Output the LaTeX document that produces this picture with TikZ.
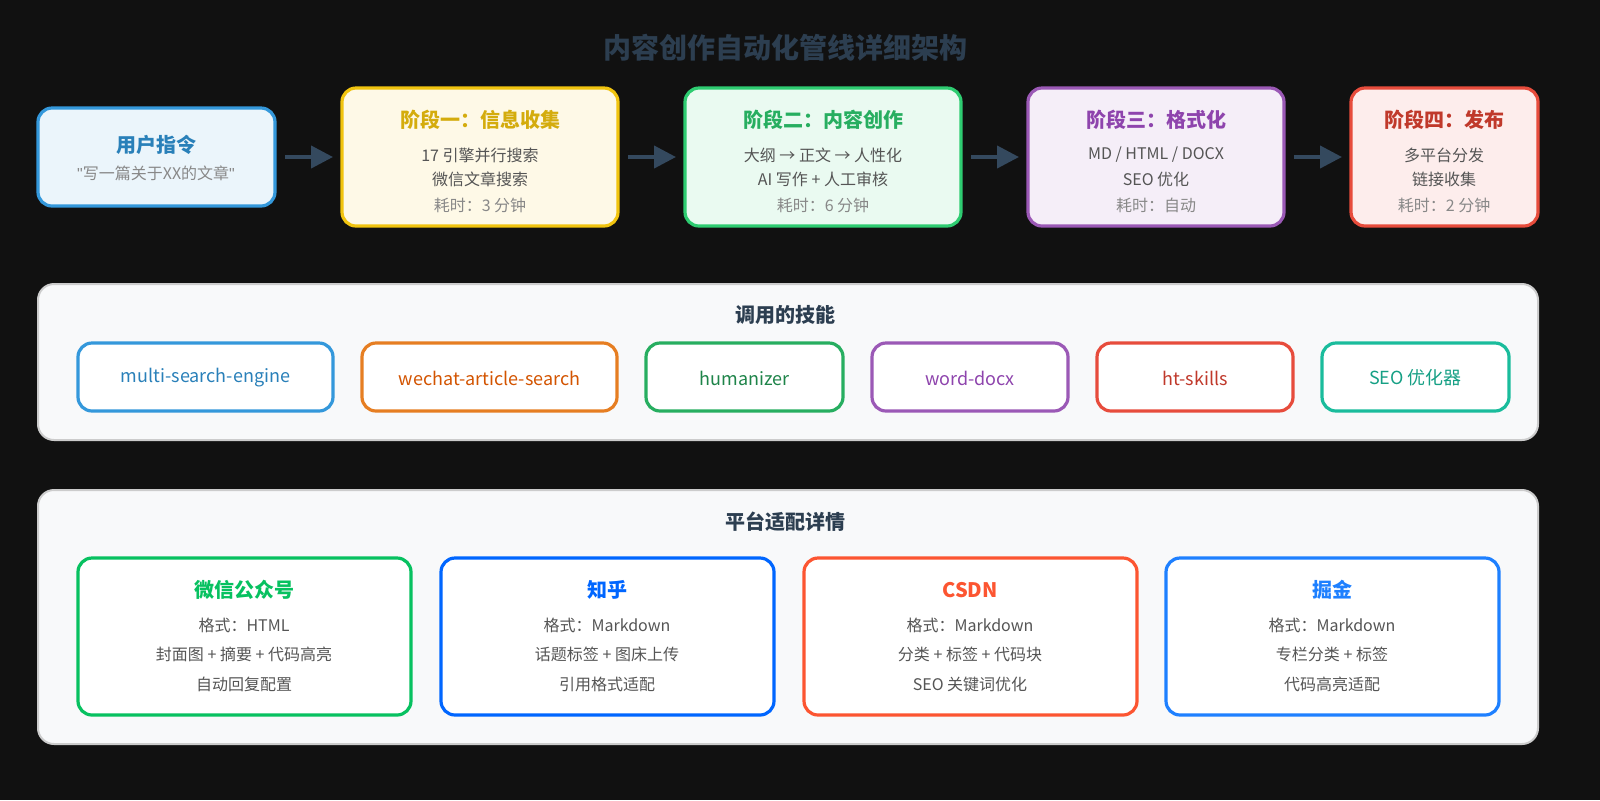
\documentclass[tikz,border=0pt]{standalone}
\usepackage{fontspec}
\setmainfont{Noto Sans CJK SC}
\newfontfamily\qfont{Liberation Sans}
\usetikzlibrary{arrows.meta}
\definecolor{bg}{HTML}{111111}
\definecolor{ttl}{HTML}{2C3E50}
\definecolor{gry}{HTML}{555555}
\definecolor{lgry}{HTML}{888888}
\definecolor{ub}{HTML}{3498DB}\definecolor{ubf}{HTML}{EBF5FB}\definecolor{ubt}{HTML}{2980B9}
\definecolor{yb}{HTML}{F1C40F}\definecolor{ybf}{HTML}{FEF9E7}\definecolor{ybt}{HTML}{D4AC0D}
\definecolor{gb}{HTML}{2ECC71}\definecolor{gbf}{HTML}{EAFAF1}\definecolor{gbt}{HTML}{27AE60}
\definecolor{pb}{HTML}{9B59B6}\definecolor{pbf}{HTML}{F5EEF8}\definecolor{pbt}{HTML}{8E44AD}
\definecolor{rb}{HTML}{E74C3C}\definecolor{rbf}{HTML}{FDEDEC}\definecolor{rbt}{HTML}{C0392B}
\definecolor{ob}{HTML}{E67E22}\definecolor{obt}{HTML}{D35400}
\definecolor{sgb}{HTML}{27AE60}\definecolor{sgt}{HTML}{1E8449}
\definecolor{tb}{HTML}{1ABC9C}\definecolor{tbt}{HTML}{16A085}
\definecolor{pan}{HTML}{F8F9FA}\definecolor{panb}{HTML}{CCCCCC}
\definecolor{wx}{HTML}{07C160}\definecolor{zh}{HTML}{0066FF}\definecolor{cs}{HTML}{FC5531}\definecolor{jj}{HTML}{1E80FF}
\definecolor{arrc}{HTML}{34495E}
\begin{document}
\begin{tikzpicture}[x=0.5pt,y=-0.5pt,
  box/.style={draw=#1,line width=1.6pt,rounded corners=7pt},
  ln/.style={text=gry,font=\fontsize{8}{9}\selectfont},
  hd/.style={font=\bfseries\fontsize{10}{12}\selectfont},
  sk/.style={font=\fontsize{9}{11}\selectfont},
  arr/.style={line width=2pt,draw=arrc,-{Triangle[length=11pt,width=11pt]}}]
\fill[bg] (0,0) rectangle (1600,800);
\useasboundingbox (0,0) rectangle (1600,800);
\node[text=ttl,font=\bfseries\fontsize{14}{16}\selectfont] (title) at (785,48) {内容创作自动化管线详细架构};
% top row
\draw[box=ub,fill=ubf] (38,108) rectangle (275,206);
\node[hd,text=ubt] (u1) at (156,145) {用户指令};
\node[ln,text=lgry] (u2) at (156,173) {{\qfont"}写一篇关于XX的文章{\qfont"}};
\draw[box=yb,fill=ybf] (342,88) rectangle (618,226);
\node[hd,text=ybt] (s1) at (480,120) {阶段一：信息收集};
\node[ln] at (480,155) {17 引擎并行搜索};
\node[ln] at (480,179) {微信文章搜索};
\node[ln,text=lgry] at (480,205) {耗时：3 分钟};
\draw[box=gb,fill=gbf] (685,88) rectangle (961,226);
\node[hd,text=gbt] (s2) at (823,120) {阶段二：内容创作};
\node[ln] at (823,155) {大纲 → 正文 → 人性化};
\node[ln] at (823,179) {AI 写作 + 人工审核};
\node[ln,text=lgry] at (823,205) {耗时：6 分钟};
\draw[box=pb,fill=pbf] (1028,88) rectangle (1284,226);
\node[hd,text=pbt] (s3) at (1156,120) {阶段三：格式化};
\node[ln] at (1156,155) {MD / HTML / DOCX};
\node[ln] at (1156,179) {SEO 优化};
\node[ln,text=lgry] at (1156,205) {耗时：自动};
\draw[box=rb,fill=rbf] (1351,88) rectangle (1538,226);
\node[hd,text=rbt] (s4) at (1444,120) {阶段四：发布};
\node[ln] at (1444,155) {多平台分发};
\node[ln] at (1444,179) {链接收集};
\node[ln,text=lgry] at (1444,205) {耗时：2 分钟};
\coordinate (a1s) at (285,157); \coordinate (a1e) at (333,157);
\coordinate (a2s) at (628,157); \coordinate (a2e) at (676,157);
\coordinate (a3s) at (971,157); \coordinate (a3e) at (1019,157);
\coordinate (a4s) at (1294,157); \coordinate (a4e) at (1342,157);
\draw[arr] (a1s)--(a1e); \draw[arr] (a2s)--(a2e); \draw[arr] (a3s)--(a3e); \draw[arr] (a4s)--(a4e);
% skills
\draw[draw=panb,line width=1pt,fill=pan,rounded corners=8pt] (38,284) rectangle (1538,440);
\node[hd,text=ttl] (sk) at (785,315) {调用的技能};
\foreach \a/\b/\c/\t/\txt in {78/333/ub/ubt/multi-search-engine,
 362/617/ob/obt/wechat-article-search,
 646/843/sgb/sgt/humanizer,
 872/1068/pb/pbt/word-docx,
 1097/1293/rb/rbt/ht-skills,
 1322/1509/tb/tbt/SEO 优化器}{
  \draw[box=\c,fill=white] (\a,343) rectangle (\b,411);
  \node[sk,text=\t] at ({(\a+\b)/2},378) {\txt};
}
% platforms
\draw[draw=panb,line width=1pt,fill=pan,rounded corners=8pt] (38,490) rectangle (1538,744);
\node[hd,text=ttl] (pl) at (785,522) {平台适配详情};
\foreach \a/\c/\h/\la/\lb/\lc in {78/wx/微信公众号/格式：HTML/封面图 + 摘要 + 代码高亮/自动回复配置,
 441/zh/知乎/格式：Markdown/话题标签 + 图床上传/引用格式适配,
 804/cs/CSDN/格式：Markdown/分类 + 标签 + 代码块/SEO 关键词优化,
 1166/jj/掘金/格式：Markdown/专栏分类 + 标签/代码高亮适配}{
  \draw[box=\c,fill=white] (\a,558) rectangle ({\a+333},715);
  \node[hd,text=\c] at ({\a+166},590) {\h};
  \node[ln] at ({\a+166},625) {\la};
  \node[ln] at ({\a+166},654) {\lb};
  \node[ln] at ({\a+166},684) {\lc};
}
\end{tikzpicture}
\end{document}
